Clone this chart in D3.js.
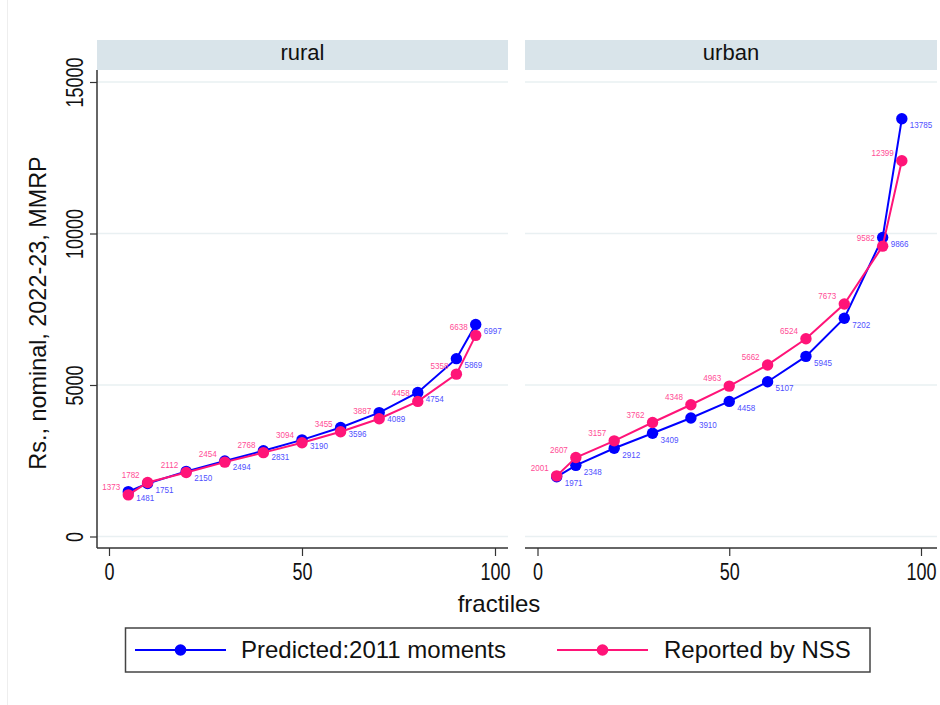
<!DOCTYPE html>
<html>
<head>
<meta charset="utf-8">
<script src="https://cdn.jsdelivr.net/npm/d3@7"></script>
<style>
  html, body { margin: 0; padding: 0; background: #fff; }
  svg { display: block; font-family: "Liberation Sans", Arial, sans-serif; }
</style>
</head>
<body>
<svg id="chart" width="940" height="705"></svg>
<script>
// Fractiles at which the monthly per-capita consumption is reported
const fractiles = [5, 10, 20, 30, 40, 50, 60, 70, 80, 90, 95];

// Rural: predicted from 2011 moments vs. NSS reported
const ruralPredicted = [1481, 1751, 2150, 2494, 2831, 3190, 3596, 4089, 4754, 5869, 6997];
const ruralReported  = [1373, 1782, 2112, 2454, 2768, 3094, 3455, 3887, 4458, 5358, 6638];

// Urban: predicted from 2011 moments vs. NSS reported
const urbanPredicted = [1971, 2348, 2912, 3409, 3910, 4458, 5107, 5945, 7202, 9866, 13785];
const urbanReported  = [2001, 2607, 3157, 3762, 4348, 4963, 5662, 6524, 7673, 9582, 12399];

const panelNames = ["rural", "urban"];
const seriesNames = ["Predicted:2011 moments", "Reported by NSS"];
const xTicks = [0, 50, 100];
const yTicks = [0, 5000, 10000, 15000];

const colors = { pred: "#0000ff", rep: "#ff1478" };
const labelColors = { pred: "#5050ff", rep: "#ff4d96" };

const panels = [
  { name: panelNames[0], pred: ruralPredicted, rep: ruralReported, left: 97, right: 508, x0: 109, x100: 495 },
  { name: panelNames[1], pred: urbanPredicted, rep: urbanReported, left: 525, right: 937, x0: 537.5, x100: 921 }
];

const svg = d3.select("#chart");
const stripTop = 40, stripBottom = 70, plotBottom = 548;
const numScale = "scale(0.75,1)"; // narrow numerals for tick labels

// Shared y scale
const y = d3.scaleLinear().domain([0, 15000]).range([536.5, 82]);

// faint outer frame edge
svg.append("line").attr("x1", 7.5).attr("x2", 7.5).attr("y1", 0).attr("y2", 705)
  .attr("stroke", "#eeeeee").attr("stroke-width", 1);

panels.forEach((p, i) => {
  const x = d3.scaleLinear().domain([0, 100]).range([p.x0, p.x100]);
  const g = svg.append("g");

  // strip header
  g.append("rect").attr("x", p.left).attr("y", stripTop)
    .attr("width", p.right - p.left).attr("height", stripBottom - stripTop)
    .attr("fill", "#d9e4ea");
  g.append("text").attr("x", (p.left + p.right) / 2).attr("y", 60)
    .attr("text-anchor", "middle").attr("font-size", 22).attr("fill", "#111")
    .text(p.name);

  // gridlines
  g.selectAll(".grid").data(yTicks).enter().append("line")
    .attr("x1", p.left).attr("x2", p.right)
    .attr("y1", d => y(d)).attr("y2", d => y(d))
    .attr("stroke", "#e9f0f2").attr("stroke-width", 1.5);

  // x axis
  const xAxis = d3.axisBottom(x).tickValues(xTicks).tickSize(8);
  const xg = g.append("g").attr("transform", `translate(0,${plotBottom})`).call(xAxis);
  xg.select(".domain").remove();
  xg.append("line").attr("x1", p.left).attr("x2", p.right).attr("y1", 0).attr("y2", 0)
    .attr("stroke", "#333").attr("stroke-width", 1.5);
  xg.selectAll(".tick line").attr("stroke", "#333").attr("stroke-width", 1.2);
  xg.selectAll(".tick text").remove();
  xg.selectAll(".tick").append("text")
    .attr("transform", numScale)
    .attr("y", 32).attr("text-anchor", "middle")
    .attr("font-size", 24).attr("fill", "#111")
    .attr("font-family", "Liberation Sans, Arial, sans-serif")
    .text(d => d);

  // y axis on first panel only
  if (i === 0) {
    const yAxis = d3.axisLeft(y).tickValues(yTicks).tickSize(7).tickFormat(d3.format("d"));
    const yg = g.append("g").attr("transform", `translate(${p.left},0)`).call(yAxis);
    yg.select(".domain").remove();
    yg.append("line").attr("x1", 0).attr("x2", 0).attr("y1", stripBottom).attr("y2", plotBottom)
      .attr("stroke", "#333").attr("stroke-width", 1.5);
    yg.selectAll(".tick line").attr("stroke", "#333").attr("stroke-width", 1.2);
    yg.selectAll(".tick text").remove();
    yg.selectAll(".tick").append("text")
      .attr("transform", "translate(-14,0) rotate(-90) " + numScale)
      .attr("text-anchor", "middle")
      .attr("font-size", 24).attr("fill", "#111")
      .attr("font-family", "Liberation Sans, Arial, sans-serif")
      .text(d => d);
  }

  const line = d3.line().x((d, k) => x(fractiles[k])).y(d => y(d));

  // predicted series first, reported drawn on top
  [["pred", p.pred], ["rep", p.rep]].forEach(([key, vals]) => {
    g.append("path").datum(vals).attr("d", line)
      .attr("fill", "none").attr("stroke", colors[key]).attr("stroke-width", 2);
    g.selectAll(".m-" + key).data(vals).enter().append("circle")
      .attr("cx", (d, k) => x(fractiles[k])).attr("cy", d => y(d))
      .attr("r", 5.7).attr("fill", colors[key]);
    g.selectAll(".l-" + key).data(vals).enter().append("text")
      .attr("transform", (d, k) => {
        const tx = x(fractiles[k]) + (key === "pred" ? 8 : -8);
        const ty = y(d) + (key === "pred" ? 9.5 : -5);
        return `translate(${tx},${ty}) scale(0.85,1)`;
      })
      .attr("text-anchor", key === "pred" ? "start" : "end")
      .attr("font-size", 9.5).attr("fill", labelColors[key])
      .text(d => d);
  });
});

// axis titles
svg.append("text").attr("x", 499).attr("y", 612).attr("text-anchor", "middle")
  .attr("font-size", 24).attr("fill", "#111").text("fractiles");
svg.append("text").attr("transform", "translate(46,313) rotate(-90)")
  .attr("text-anchor", "middle").attr("font-size", 23.4).attr("fill", "#111")
  .text("Rs., nominal, 2022-23, MMRP");

// legend
const lg = svg.append("g");
lg.append("rect").attr("x", 125.5).attr("y", 628).attr("width", 744.5).attr("height", 44)
  .attr("fill", "#fff").attr("stroke", "#444").attr("stroke-width", 1.5);
const legendItems = [
  { key: "pred", x1: 135, x2: 226, tx: 241, label: seriesNames[0] },
  { key: "rep", x1: 557, x2: 648, tx: 664, label: seriesNames[1] }
];
legendItems.forEach(it => {
  lg.append("line").attr("x1", it.x1).attr("x2", it.x2).attr("y1", 650).attr("y2", 650)
    .attr("stroke", colors[it.key]).attr("stroke-width", 2);
  lg.append("circle").attr("cx", (it.x1 + it.x2) / 2).attr("cy", 650).attr("r", 5.8)
    .attr("fill", colors[it.key]);
  lg.append("text").attr("x", it.tx).attr("y", 658).attr("font-size", 24).attr("fill", "#111")
    .text(it.label);
});
</script>
</body>
</html>
